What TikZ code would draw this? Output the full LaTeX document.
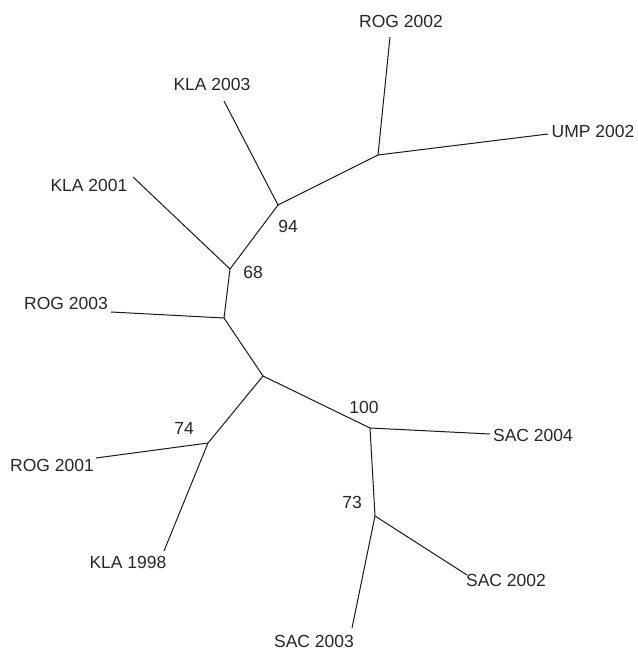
\documentclass[tikz,border=0pt]{standalone}
\usepackage{fontspec}
\setmainfont{Liberation Sans}
\begin{document}
\begin{tikzpicture}[x=1pt,y=-1pt,
  branch/.style={draw=black!90,line width=1pt},
  leaf/.style={inner sep=0pt,font=\fontsize{17.5}{20}\selectfont,text=black!85},
  boot/.style={inner sep=0pt,font=\fontsize{17.5}{20}\selectfont,text=black!85}]
\useasboundingbox[fill=white] (0,0) rectangle (637,652);
% internal nodes
\coordinate (A) at (378,155);
\coordinate (B) at (278,205);
\coordinate (C) at (230,269);
\coordinate (D) at (224,318);
\coordinate (E) at (263,376);
\coordinate (F) at (208,443);
\coordinate (G) at (370,428);
\coordinate (H) at (375,516);
% tips
\coordinate (tROG02) at (390,37);
\coordinate (tUMP02) at (548,134);
\coordinate (tKLA03) at (224,101);
\coordinate (tKLA01) at (133,177);
\coordinate (tROG03) at (111,312);
\coordinate (tROG01) at (96,458);
\coordinate (tKLA98) at (164,551);
\coordinate (tSAC04) at (490,434);
\coordinate (tSAC02) at (467,575);
\coordinate (tSAC03) at (352,628);
% labels
\node[leaf] (lROG02) at (401,21) {ROG 2002};
\node[leaf] (lUMP02) at (593,131) {UMP 2002};
\node[leaf] (lKLA03) at (212,84) {KLA 2003};
\node[leaf] (lKLA01) at (89,185) {KLA 2001};
\node[leaf] (lROG03) at (66,303) {ROG 2003};
\node[leaf] (lROG01) at (52,465) {ROG 2001};
\node[leaf] (lKLA98) at (128,562) {KLA 1998};
\node[leaf] (lSAC04) at (533,435) {SAC 2004};
\node[leaf] (lSAC02) at (506,580) {SAC 2002};
\node[leaf] (lSAC03) at (314,641) {SAC 2003};
\node[boot] (b94) at (288,226) {94};
\node[boot] (b68) at (253,272) {68};
\node[boot] (b74) at (184,428) {74};
\node[boot] (b100) at (364,407) {100};
\node[boot] (b73) at (352,502) {73};
% branches
\draw[branch] (A) -- (tROG02);
\draw[branch] (A) -- (tUMP02);
\draw[branch] (B) -- (A);
\draw[branch] (B) -- (tKLA03);
\draw[branch] (C) -- (B);
\draw[branch] (C) -- (tKLA01);
\draw[branch] (D) -- (C);
\draw[branch] (D) -- (tROG03);
\draw[branch] (D) -- (E);
\draw[branch] (E) -- (F);
\draw[branch] (F) -- (tROG01);
\draw[branch] (F) -- (tKLA98);
\draw[branch] (E) -- (G);
\draw[branch] (G) -- (tSAC04);
\draw[branch] (G) -- (H);
\draw[branch] (H) -- (tSAC02);
\draw[branch] (H) -- (tSAC03);
\end{tikzpicture}
\end{document}
